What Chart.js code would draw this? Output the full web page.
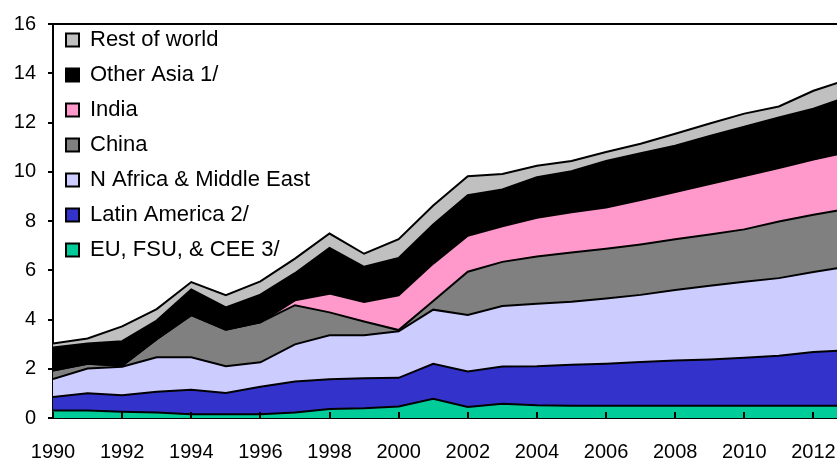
<!DOCTYPE html>
<html>
<head>
<meta charset="utf-8">
<script src="https://cdn.jsdelivr.net/npm/chart.js@4/dist/chart.umd.min.js"></script>
<style>
  html, body { margin: 0; padding: 0; background: #fff; overflow: hidden; width: 837px; height: 464px; }
  canvas { position: absolute; left: 0; top: 0; }
</style>
</head>
<body>
<canvas id="c" width="870" height="464"></canvas>
<script>
const years = [1990,1991,1992,1993,1994,1995,1996,1997,1998,1999,2000,2001,2002,2003,2004,2005,2006,2007,2008,2009,2010,2011,2012,2013];

const euFsuCee   = [0.30,0.30,0.25,0.22,0.15,0.15,0.15,0.22,0.37,0.40,0.47,0.78,0.45,0.58,0.52,0.50,0.50,0.50,0.50,0.50,0.50,0.50,0.50,0.50];
const latinAm    = [0.55,0.70,0.67,0.85,1.00,0.87,1.12,1.26,1.20,1.21,1.16,1.42,1.44,1.51,1.58,1.66,1.70,1.77,1.83,1.88,1.95,2.03,2.18,2.25];
const nAfricaME  = [0.73,1.01,1.16,1.40,1.32,1.08,0.99,1.51,1.79,1.75,1.89,2.20,2.29,2.46,2.54,2.56,2.65,2.73,2.87,2.99,3.08,3.15,3.25,3.40];
const china      = [0.35,0.19,0.04,0.73,1.71,1.49,1.63,1.59,0.93,0.56,0.05,0.35,1.76,1.79,1.92,2.00,2.02,2.05,2.06,2.08,2.13,2.30,2.32,2.35];
const india      = [0,0,0,0,0,0,0,0.20,0.76,0.79,1.41,1.52,1.46,1.45,1.57,1.63,1.68,1.80,1.92,2.05,2.17,2.17,2.25,2.30];
const otherAsia  = [0.93,0.83,1.00,0.76,1.04,0.90,1.12,1.10,1.86,1.43,1.52,1.59,1.65,1.49,1.65,1.67,1.89,1.90,1.88,1.95,2.00,2.05,2.06,2.25];
const restWorld  = [0.17,0.20,0.60,0.46,0.30,0.50,0.54,0.59,0.58,0.53,0.76,0.77,0.77,0.63,0.46,0.42,0.36,0.39,0.48,0.51,0.53,0.45,0.73,0.70];

const seriesNames = ["EU, FSU, & CEE 3/","Latin America 2/","N Africa & Middle East","China","India","Other Asia 1/","Rest of world"];
const seriesColors = ["#00CC99","#3333CC","#CCCCFF","#808080","#FF99CC","#000000","#C0C0C0"];
const seriesValues = [euFsuCee, latinAm, nAfricaME, china, india, otherAsia, restWorld];

const yTicks = [0,2,4,6,8,10,12,14,16];
const xTickLabels = [1990,1992,1994,1996,1998,2000,2002,2004,2006,2008,2010,2012];

const FONT = '"Liberation Sans", Arial, sans-serif';

const datasets = seriesValues.map((vals, i) => ({
  label: seriesNames[i],
  data: years.map((yr, j) => ({x: yr, y: vals[j]})),
  backgroundColor: seriesColors[i],
  borderColor: '#000000',
  borderWidth: 2,
  pointRadius: 0,
  pointHoverRadius: 0,
  tension: 0,
  fill: i === 0 ? 'origin' : '-1'
}));

const frameAndTicks = {
  id: 'frameAndTicks',
  afterDraw(chart) {
    const {ctx, chartArea: a, scales: {x}} = chart;
    ctx.save();
    ctx.strokeStyle = '#000';
    ctx.lineWidth = 2;
    ctx.beginPath();
    ctx.moveTo(a.left, a.top);
    ctx.lineTo(a.right, a.top);
    ctx.lineTo(a.right, a.bottom);
    ctx.stroke();
    xTickLabels.forEach(v => {
      const px = Math.round(x.getPixelForValue(v));
      ctx.beginPath();
      ctx.moveTo(px, a.bottom);
      ctx.lineTo(px, a.bottom - 6);
      ctx.stroke();
    });
    ctx.restore();
  }
};

new Chart(document.getElementById('c'), {
  type: 'line',
  data: { datasets },
  options: {
    responsive: false,
    animation: false,
    events: [],
    layout: { padding: { left: 0, right: 22, top: 15, bottom: 0 } },
    scales: {
      x: {
        type: 'linear',
        min: 1990, max: 2013,
        z: 1,
        afterFit: s => { s.height = 46; },
        afterBuildTicks: s => { s.ticks = xTickLabels.map(v => ({value: v})); },
        ticks: {
          includeBounds: false,
          stepSize: 2,
          maxRotation: 0,
          autoSkip: false,
          padding: 22,
          color: '#000',
          font: { family: FONT, size: 20 },
          callback: v => String(v)
        },
        grid: { drawOnChartArea: false, drawTicks: false },
        border: { display: true, color: '#000', width: 2 }
      },
      y: {
        stacked: true,
        min: 0, max: 16,
        z: 1,
        afterFit: s => { s.width = 53; },
        afterBuildTicks: s => { s.ticks = yTicks.map(v => ({value: v})); },
        ticks: {
          stepSize: 2,
          padding: 12,
          color: '#000',
          font: { family: FONT, size: 20 },
          callback: v => String(v)
        },
        grid: { drawOnChartArea: false, drawTicks: true, tickLength: 5, color: '#000', lineWidth: 2 },
        border: { display: true, color: '#000', width: 2 }
      }
    },
    plugins: {
      filler: { drawTime: 'beforeDatasetsDraw' },
      tooltip: { enabled: false },
      legend: {
        position: 'chartArea',
        align: 'start',
        reverse: true,
        title: { display: true, text: ' ', padding: 0, font: { family: FONT, size: 10, lineHeight: 1.6 } },
        labels: {
          boxWidth: 13,
          boxHeight: 13,
          padding: 13,
          color: '#000',
          font: { family: FONT, size: 22 }
        }
      }
    }
  },
  plugins: [frameAndTicks]
});
</script>
</body>
</html>
